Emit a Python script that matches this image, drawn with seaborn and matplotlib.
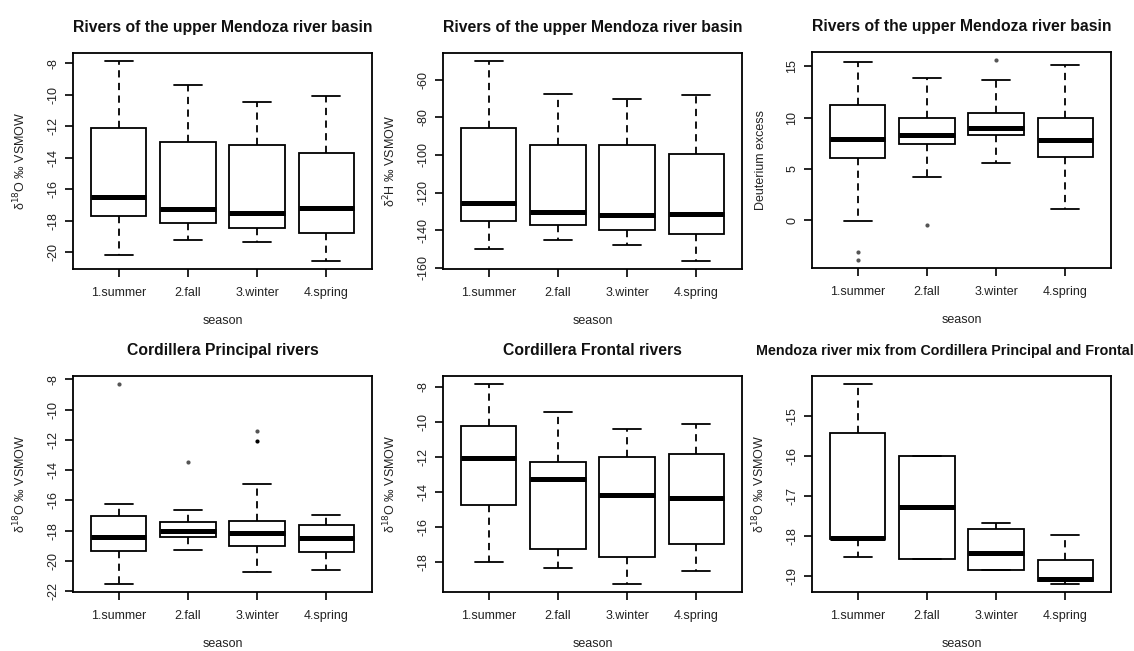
import pandas as pd
import matplotlib.pyplot as plt
import seaborn as sns
from matplotlib.ticker import MultipleLocator

sns.set_theme(style="ticks")
plt.rcParams["font.family"] = ["Liberation Sans", "DejaVu Sans"]
plt.rcParams["axes.unicode_minus"] = False

SEASONS = ["1.summer", "2.fall", "3.winter", "4.spring"]

# box stats per season: (lower whisker, Q1, median, Q3, upper whisker)
UPPER_O18 = [(-20.2, -17.72, -16.53, -12.08, -7.85),
             (-19.25, -18.15, -17.26, -13.0, -9.4),
             (-19.36, -18.47, -17.5, -13.22, -10.44),
             (-20.57, -18.76, -17.21, -13.69, -10.08)]
UPPER_H2 = [(-150.1, -135.0, -125.7, -85.7, -50.1),
            (-145.0, -137.5, -130.6, -95.0, -67.6),
            (-148.1, -140.0, -131.9, -95.0, -70.1),
            (-156.4, -141.9, -131.2, -99.5, -68.3)]
UPPER_DEXC = [(-0.06, 6.1, 7.95, 11.23, 15.36),
              (4.25, 7.4, 8.31, 10.0, 13.8),
              (5.55, 8.28, 9.03, 10.45, 13.67),
              (1.07, 6.2, 7.82, 10.0, 15.13)]
PRINCIPAL_O18 = [(-21.53, -19.35, -18.42, -17.03, -16.26),
                 (-19.28, -18.42, -18.05, -17.43, -16.64),
                 (-20.74, -19.02, -18.18, -17.34, -14.92),
                 (-20.61, -19.44, -18.51, -17.63, -17.0)]
FRONTAL_O18 = [(-17.96, -14.74, -12.04, -10.25, -7.83),
               (-18.30, -17.24, -13.26, -12.27, -9.43),
               (-19.24, -17.71, -14.15, -12.0, -10.38),
               (-18.5, -16.95, -14.36, -11.81, -10.11)]
MIX_O18 = [(-18.53, -18.08, -18.05, -15.44, -14.21),
           (-18.58, -18.58, -17.28, -16.01, -16.01),
           (-18.85, -18.85, -18.43, -17.83, -17.68),
           (-19.21, -19.13, -19.09, -18.61, -17.98)]

# outlying points (season, value)
UPPER_DEXC_OUT = [("1.summer", -3.05), ("1.summer", -3.86),
                  ("2.fall", -0.45), ("3.winter", 15.6)]
PRINCIPAL_OUT = [("1.summer", -8.31), ("2.fall", -13.45), ("3.winter", -11.42)]
PRINCIPAL_OUT_DARK = [("3.winter", -12.06)]

TITLE_UPPER = "Rivers of the upper Mendoza river basin"
O18_LABEL = "δ$^{18}$O ‰ VSMOW"
H2_LABEL = "δ$^{2}$H ‰ VSMOW"

W, H = 1134, 651
fig = plt.figure(figsize=(W / 100, H / 100), dpi=100)


def panel(left, bottom, stats, title, ylabel, step, out=(), out_dark=(),
          title_size=11.3, title_x=0.5):
    ax = fig.add_axes([left / W, 1 - bottom / H, 299 / W, 216 / H])
    df = pd.DataFrame([(s, v) for s, box in zip(SEASONS, stats) for v in box],
                      columns=["season", "value"])
    sns.boxplot(data=df, x="season", y="value", order=SEASONS, whis=(0, 100),
                width=0.8, color="white", linecolor="black", linewidth=1.3,
                showfliers=False, medianprops=dict(linewidth=3.6),
                whiskerprops=dict(linestyle=(0, (4, 3))), ax=ax)
    for pts, col in [(out, "#555555"), (out_dark, "black")]:
        if pts:
            o = pd.DataFrame(list(pts), columns=["season", "value"])
            sns.stripplot(data=o, x="season", y="value", order=SEASONS,
                          jitter=False, color=col, size=3, ax=ax)
    vals = [v for box in stats for v in box] + [v for _, v in list(out) + list(out_dark)]
    lo, hi = min(vals), max(vals)
    pad = 0.04 * (hi - lo)
    ax.set_ylim(lo - pad, hi + pad)
    ax.set_xlim(-0.66, 3.66)
    ax.yaxis.set_major_locator(MultipleLocator(step))
    for sp in ax.spines.values():
        sp.set_visible(True)
        sp.set_color("black")
        sp.set_linewidth(1.3)
    ax.tick_params(length=5.8, width=1.2, color="black", labelsize=9,
                   labelcolor="#222222", pad=7)
    ax.tick_params(axis="y", labelrotation=90, pad=4)
    for t in ax.get_yticklabels():
        t.set_va("center")
    ax.set_title(title, fontsize=title_size, fontweight="bold", pad=15,
                 color="#111111", x=title_x)
    ax.set_xlabel("season", fontsize=9, labelpad=12, color="#222222")
    ax.set_ylabel(ylabel, fontsize=9, labelpad=14, color="#222222")
    return ax


panel(73, 269, UPPER_O18, TITLE_UPPER, O18_LABEL, 2)
panel(443, 269, UPPER_H2, TITLE_UPPER, H2_LABEL, 20)
panel(812, 268, UPPER_DEXC, TITLE_UPPER, "Deuterium excess", 5, UPPER_DEXC_OUT)
panel(73, 592, PRINCIPAL_O18, "Cordillera Principal rivers", O18_LABEL, 2,
      PRINCIPAL_OUT, PRINCIPAL_OUT_DARK)
panel(443, 592, FRONTAL_O18, "Cordillera Frontal rivers", O18_LABEL, 2)
panel(812, 592, MIX_O18, "Mendoza river mix from Cordillera Principal and Frontal",
      O18_LABEL, 1, title_size=10.3, title_x=(945 - 812) / 299)

fig.savefig("out.png", dpi=100, facecolor="white")
